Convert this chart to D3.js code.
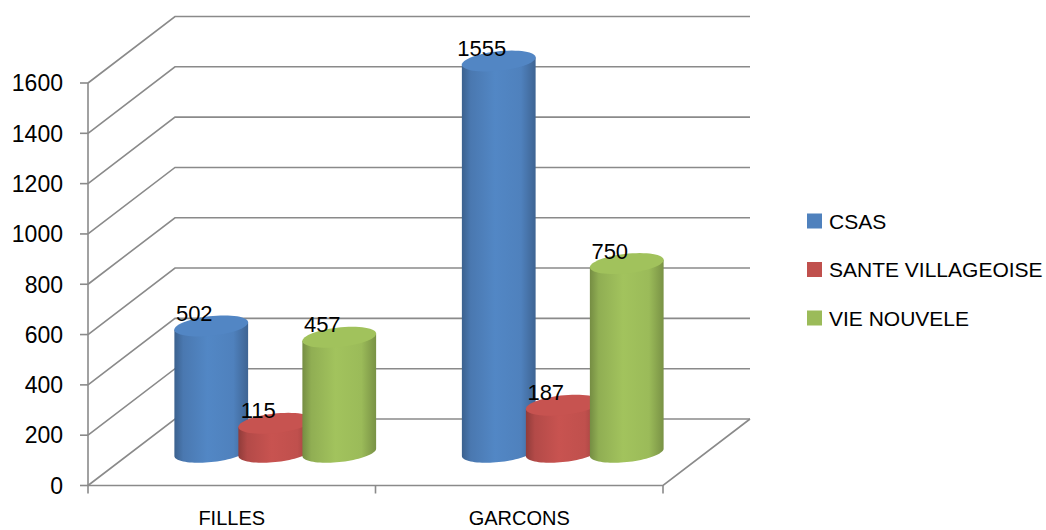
<!DOCTYPE html>
<html>
<head>
<meta charset="utf-8">
<script src="https://cdn.jsdelivr.net/npm/d3@7/dist/d3.min.js"></script>
<style>
  html, body { margin: 0; padding: 0; background: #ffffff; }
  svg { display: block; }
  text { font-family: "Liberation Sans", Arial, sans-serif; fill: #000; }
</style>
</head>
<body>
<svg id="chart" width="1046" height="530"></svg>
<script>
// ---- data ----
const categories = ["FILLES", "GARCONS"];
const seriesNames = ["CSAS", "SANTE VILLAGEOISE", "VIE NOUVELE"];
const seriesColors = ["#4F81BD", "#C0504D", "#9BBB59"];
const csasValues = [502, 1555];
const santeValues = [115, 187];
const vieValues = [457, 750];
const yTicks = [0, 200, 400, 600, 800, 1000, 1200, 1400, 1600];

const seriesValues = [csasValues, santeValues, vieValues];

// ---- layout ----
const svg = d3.select("#chart");
const front = { left: 88, right: 663, bottom: 485.5, top: 83 };
const depth = { dx: 87, dy: -66.5 };
const mid = { dx: depth.dx / 2, dy: depth.dy / 2 };

const y = d3.scaleLinear().domain([0, 1600]).range([front.bottom, front.top]);
const x = d3.scaleBand().domain(categories).range([front.left, front.right]).padding(0);
const xs = d3.scaleBand().domain(seriesNames).range([-96, 96]).padding(0);

const grid = svg.append("g").attr("stroke", "#8a8a8a").attr("stroke-width", 1.6).attr("fill", "none");

// back wall + left wall gridlines
yTicks.forEach(t => {
  const yf = y(t);
  grid.append("path").attr("d", d3.line()([
    [front.left, yf],
    [front.left + depth.dx, yf + depth.dy],
    [front.right + depth.dx, yf + depth.dy]
  ]));
});
// floor front edge and right edge
grid.append("path").attr("d", d3.line()([
  [front.left, front.bottom],
  [front.right, front.bottom],
  [front.right + depth.dx, front.bottom + depth.dy]
]));
// vertical axis
grid.append("line").attr("x1", front.left).attr("x2", front.left)
  .attr("y1", y(0)).attr("y2", y(1600));
// y tick marks
yTicks.forEach(t => {
  grid.append("line").attr("x1", front.left - 8).attr("x2", front.left)
    .attr("y1", y(t)).attr("y2", y(t));
});
// category tick marks
const catEdges = [x.range()[0]].concat(categories.map(c => x(c) + x.bandwidth()));
catEdges.forEach(cx => {
  grid.append("line").attr("x1", cx).attr("x2", cx)
    .attr("y1", front.bottom).attr("y2", front.bottom + 8);
});

// y labels
svg.append("g").selectAll("text").data(yTicks).join("text")
  .attr("x", front.left - 25).attr("y", d => y(d))
  .attr("dy", "0.36em").attr("text-anchor", "end")
  .attr("font-size", 23).text(d => d);

// category labels
svg.append("g").selectAll("text").data(categories).join("text")
  .attr("x", d => x(d) + x.bandwidth() / 2).attr("y", 525)
  .attr("text-anchor", "middle").attr("font-size", 20).text(d => d);

// ---- cylinders ----
const defs = svg.append("defs");
seriesColors.forEach((c, i) => {
  const base = d3.color(c);
  const g = defs.append("linearGradient").attr("id", "grad" + i)
    .attr("x1", "0%").attr("x2", "100%").attr("y1", "0%").attr("y2", "0%");
  g.append("stop").attr("offset", "0%").attr("stop-color", base.darker(0.8));
  g.append("stop").attr("offset", "12%").attr("stop-color", base.darker(0.2));
  g.append("stop").attr("offset", "45%").attr("stop-color", base.brighter(0.12));
  g.append("stop").attr("offset", "80%").attr("stop-color", base);
  g.append("stop").attr("offset", "100%").attr("stop-color", base.darker(0.7));
});

const rx = 34.5, sx = 13, sy = 10.5;
function ellPt(cx, cy, t) {
  return [cx + rx * Math.cos(t) + sx * Math.sin(t), cy - sy * Math.sin(t)];
}
const t0 = Math.atan2(sx, rx);

function cylinderPath(cx, yTop, yBot) {
  const pts = [];
  pts.push(ellPt(cx, yTop, Math.PI + t0));
  const n = 40;
  for (let k = 0; k <= n; k++) {
    const t = Math.PI + t0 + (Math.PI * k) / n;
    pts.push(ellPt(cx, yBot, t));
  }
  pts.push(ellPt(cx, yTop, t0));
  return d3.line()(pts) + "Z";
}
function ellipsePath(cx, cy) {
  const pts = [];
  const n = 60;
  for (let k = 0; k < n; k++) pts.push(ellPt(cx, cy, (2 * Math.PI * k) / n));
  return d3.line()(pts) + "Z";
}

const bars = svg.append("g");
categories.forEach((cat, ci) => {
  seriesNames.forEach((s, si) => {
    const v = seriesValues[si][ci];
    const cx = x(cat) + x.bandwidth() / 2 + xs(s) + xs.bandwidth() / 2 + mid.dx;
    const yBot = y(0) + mid.dy;
    const yTop = y(v) + mid.dy;
    bars.append("path").attr("d", cylinderPath(cx, yTop, yBot))
      .attr("fill", "url(#grad" + si + ")");
    bars.append("path").attr("d", ellipsePath(cx, yTop))
      .attr("fill", d3.color(seriesColors[si]).brighter(0.1));
  });
});

// value labels
const labels = svg.append("g");
categories.forEach((cat, ci) => {
  seriesNames.forEach((s, si) => {
    const v = seriesValues[si][ci];
    const cx = x(cat) + x.bandwidth() / 2 + xs(s) + xs.bandwidth() / 2 + mid.dx;
    labels.append("text").attr("x", cx - 17).attr("y", y(v) + mid.dy - 5)
      .attr("text-anchor", "middle").attr("font-size", 22).text(v);
  });
});

// legend
const legend = svg.append("g");
seriesNames.forEach((s, i) => {
  const ly = 221 + i * 48.5;
  legend.append("rect").attr("x", 807).attr("y", ly - 7.5).attr("width", 15).attr("height", 15)
    .attr("fill", seriesColors[i]);
  legend.append("text").attr("x", 829).attr("y", ly).attr("dy", "0.36em")
    .attr("font-size", 21).text(s);
});
</script>
</body>
</html>
